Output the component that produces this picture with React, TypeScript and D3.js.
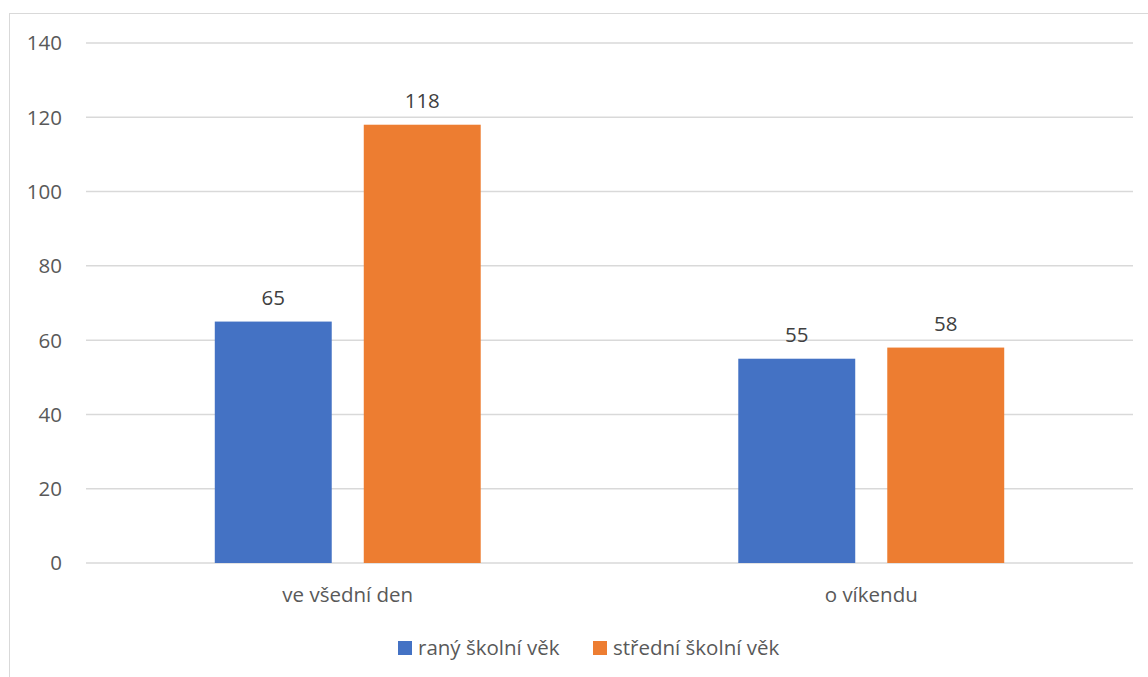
import * as React from "react";
import * as d3 from "d3";

const categories = ["ve všední den", "o víkendu"];
const seriesNames = ["raný školní věk", "střední školní věk"];
const earlyValues = [65, 55];
const middleValues = [118, 58];
const yTicks = [0, 20, 40, 60, 80, 100, 120, 140];
const colors = ["#4472c4", "#ed7d31"];

const W = 1148;
const H = 677;
const FONT = "'Open Sans', 'Liberation Sans', sans-serif";
const FS = 20.5;
const TEXT = "#595959";

const App: React.FunctionComponent = () => {
  const values = [earlyValues, middleValues];

  // plot area
  const left = 86;
  const right = 1133;
  const top = 43;
  const bottom = 563;

  const y = d3.scaleLinear().domain([0, 140]).range([bottom, top]);
  const x0 = d3.scaleBand().domain(categories).range([left, right]).padding(0);
  const inset = x0.bandwidth() * 0.246;
  const x1 = d3
    .scaleBand()
    .domain(seriesNames)
    .range([inset, x0.bandwidth() - inset])
    .paddingInner(0.215);

  return (
    <svg
      width={W}
      height={H}
      style={{ position: "absolute", left: 0, top: 0, background: "#fff" }}
      fontFamily={FONT}
    >
      {/* chart border, cropped at right and bottom */}
      <rect x={9.5} y={13.5} width={W + 10} height={H + 10} fill="none" stroke="#d9d9d9" strokeWidth={1} />

      {/* gridlines */}
      {yTicks.map((t) => (
        <g key={t}>
          <line x1={left} x2={right} y1={y(t)} y2={y(t)} stroke="#d9d9d9" strokeWidth={1.5} />
          <text x={62} y={y(t)} dy="0.36em" textAnchor="end" fontSize={FS} fill={TEXT}>
            {t}
          </text>
        </g>
      ))}

      {/* bars */}
      {categories.map((c, ci) => (
        <g key={c} transform={`translate(${x0(c)},0)`}>
          {seriesNames.map((s, si) => {
            const v = values[si][ci];
            const bx = x1(s)!;
            return (
              <g key={s}>
                <rect x={bx} y={y(v)} width={x1.bandwidth()} height={y(0) - y(v)} fill={colors[si]} />
                <text
                  x={bx + x1.bandwidth() / 2}
                  y={y(v) - 17}
                  textAnchor="middle"
                  fontSize={FS}
                  fill="#404040"
                >
                  {v}
                </text>
              </g>
            );
          })}
          <text
            x={x0.bandwidth() / 2}
            y={602}
            textAnchor="middle"
            fontSize={FS}
            fill={TEXT}
          >
            {c}
          </text>
        </g>
      ))}

      {/* legend */}
      <g>
        <rect x={398} y={641} width={14} height={14} fill={colors[0]} />
        <text x={418} y={655} fontSize={FS} fill={TEXT}>
          {seriesNames[0]}
        </text>
        <rect x={593} y={641} width={14} height={14} fill={colors[1]} />
        <text x={613} y={655} fontSize={FS} fill={TEXT}>
          {seriesNames[1]}
        </text>
      </g>
    </svg>
  );
};

export default App;
